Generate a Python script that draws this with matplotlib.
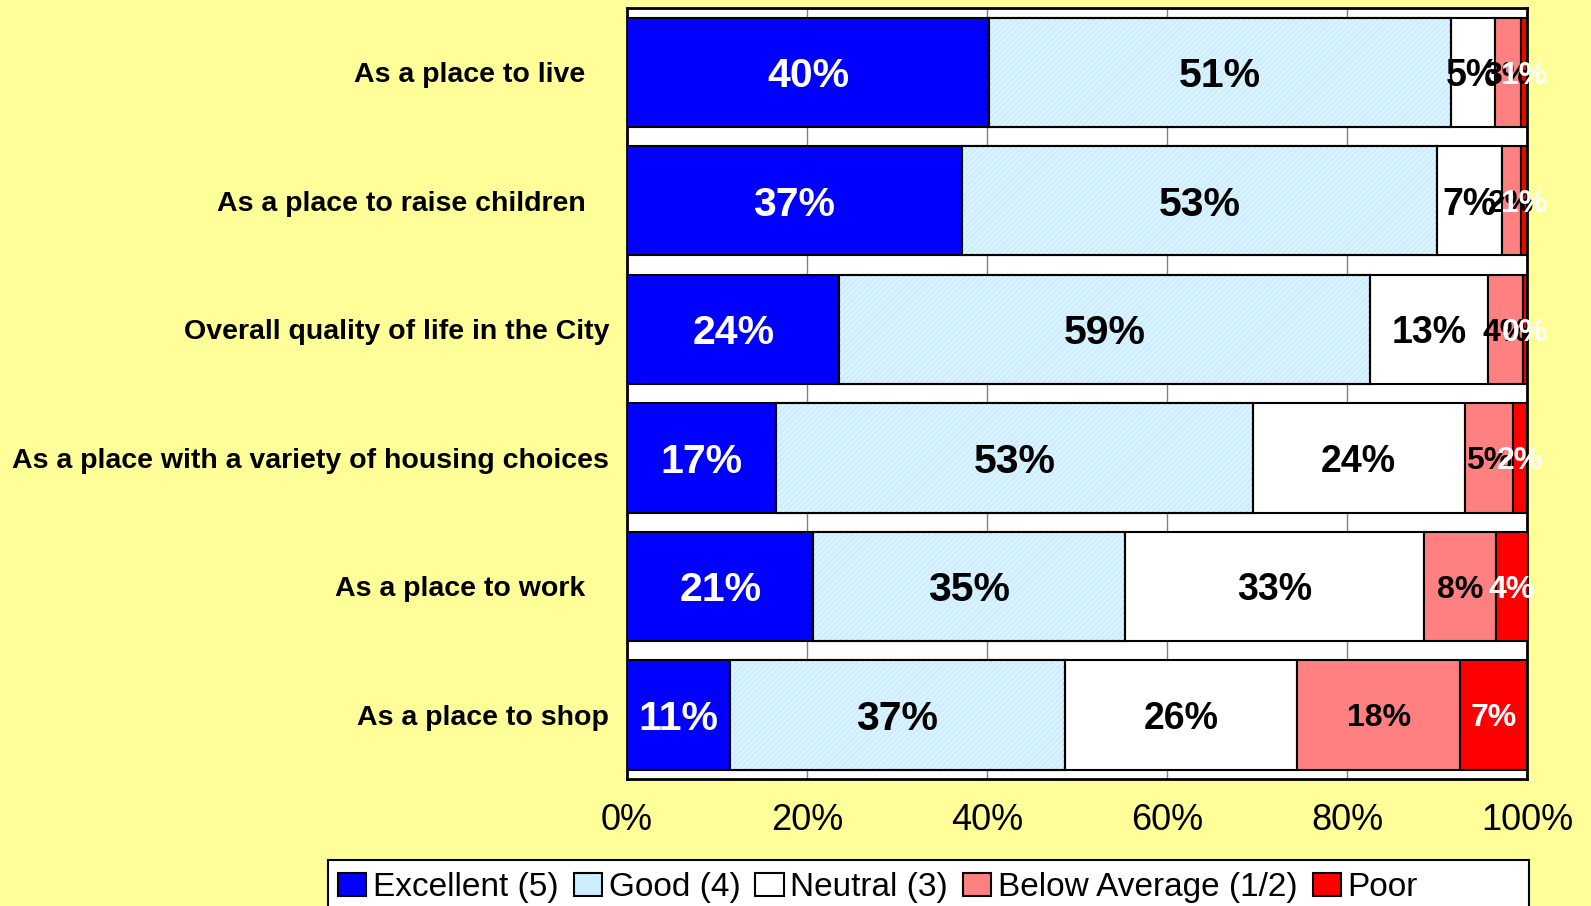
import matplotlib.pyplot as plt
import matplotlib.patches as mpatches
import numpy as np

plt.rcParams['font.family'] = ['Liberation Sans', 'DejaVu Sans']

categories = [
    "As a place to live   ",
    "As a place to raise children   ",
    "Overall quality of life in the City",
    "As a place with a variety of housing choices",
    "As a place to work   ",
    "As a place to shop",
]
series = ["Excellent (5)", "Good (4)", "Neutral (3)", "Below Average (1/2)", "Poor"]
excellent = [40.2, 37.2, 23.6, 16.6, 20.7, 11.4]
good = [51.3, 52.8, 58.9, 52.9, 34.6, 37.3]
neutral = [4.9, 7.2, 13.2, 23.6, 33.3, 25.7]
below = [2.9, 2.1, 3.8, 5.3, 7.9, 18.2]
poor = [0.7, 0.7, 0.45, 1.6, 3.6, 7.4]
xticks = [0, 20, 40, 60, 80, 100]

colors = ['#0000FF', '#CCEEFF', '#FFFFFF', '#FF8080', '#FF0000']
text_colors = ['white', 'black', 'black', 'black', 'white']
text_sizes = [29.5, 29.5, 27, 23, 23]

# layout measured on a 1568 x 893 view of the reference
W, H = 1568, 893
fig = plt.figure(figsize=(15.91, 9.06), dpi=100, facecolor='#FFFF99')
ax = fig.add_axes([618 / W, 1 - 768 / H, 887 / W, 760 / H])
ax.set_facecolor('white')

y = np.arange(len(categories))
left = np.zeros(len(categories))
data = [excellent, good, neutral, below, poor]
for i, vals in enumerate(data):
    vals = np.array(vals)
    ax.barh(y, vals, left=left, height=0.85, color=colors[i],
            edgecolor='black', linewidth=1.5, label=series[i], zorder=3)
    if i == 1:
        # fine diagonal texture on the "Good" bars
        ax.barh(y, vals, left=left, height=0.85, facecolor='none',
                edgecolor='#E2F5FF', linewidth=0, hatch='//////', zorder=3.5)
        ax.barh(y, vals, left=left, height=0.85, facecolor='none',
                edgecolor='black', linewidth=1.5, zorder=3.6)
    for j in range(len(categories)):
        ax.text(left[j] + vals[j] / 2, y[j], f"{round(vals[j])}%",
                ha='center', va='center_baseline', fontsize=text_sizes[i],
                fontweight='bold', color=text_colors[i], zorder=5)
    left = left + vals

ax.set_xlim(0, 100)
ax.set_ylim(len(categories) - 0.5, -0.5)
ax.set_xticks(xticks)
ax.set_xticklabels([f"{t}%" for t in xticks], fontsize=26)
ax.set_yticks(y)
ax.set_yticklabels(categories, fontsize=20.5, fontweight='bold')
ax.tick_params(axis='both', length=0)
ax.tick_params(axis='x', pad=17)
ax.tick_params(axis='y', pad=13)
ax.grid(axis='x', color='#808080', linewidth=1, zorder=0)
ax.set_axisbelow(True)
for s in ax.spines.values():
    s.set_linewidth(2)
    s.set_color('black')

# legend box runs past the bottom edge, as in the reference
box = mpatches.Rectangle((323 / W, -0.05), (1507 - 323) / W, 0.05 + 1 - 848 / H,
                         transform=fig.transFigure, facecolor='white',
                         edgecolor='black', linewidth=1.5, zorder=1)
fig.patches.append(box)

handles, labels = ax.get_legend_handles_labels()
leg = fig.legend(handles, labels, loc='center left',
                 bbox_to_anchor=(333 / W, 1 - 875 / H), ncol=5,
                 fontsize=24, frameon=False, handlelength=0.85,
                 handleheight=0.65, handletextpad=0.2, columnspacing=0.45,
                 borderpad=0, borderaxespad=0)
leg.set_zorder(2)

plt.savefig("out.png", dpi=100, facecolor=fig.get_facecolor())
